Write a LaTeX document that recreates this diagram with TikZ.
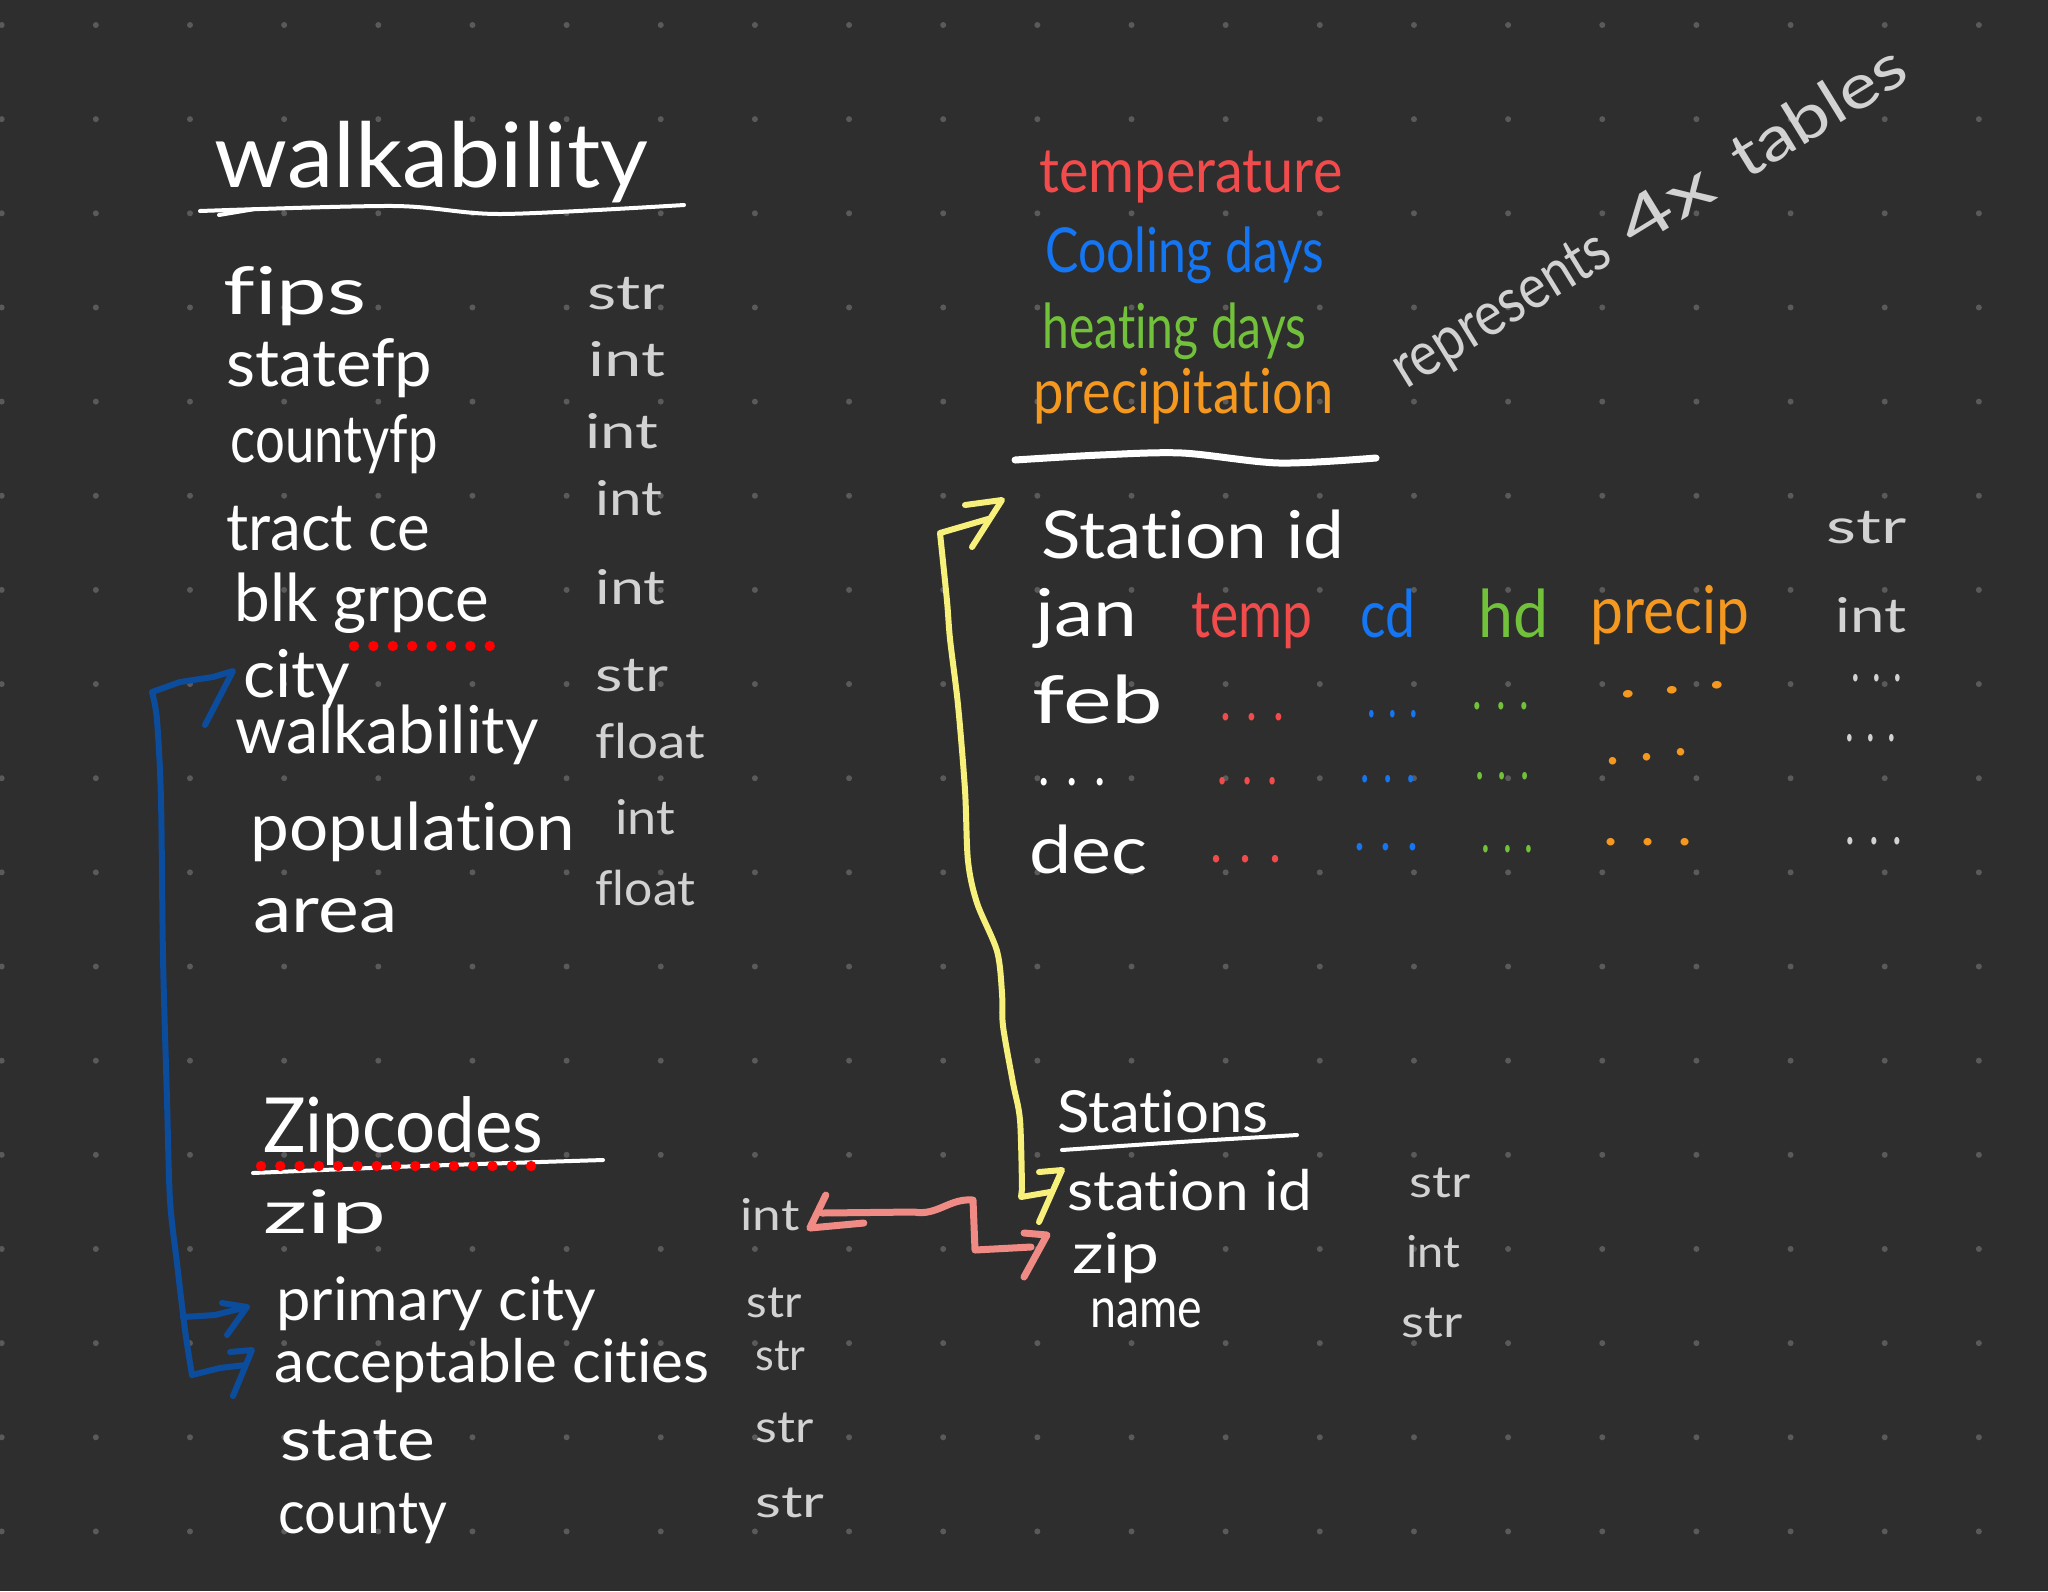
\documentclass[tikz,border=0pt]{standalone}
\usepackage{fontspec}
\setmainfont{Lato}[Ligatures=NoCommon]
\usetikzlibrary{calc}
\newcommand\fw[2]{\resizebox{\dimexpr #1pt/2\relax}{\height}{#2}}
\definecolor{bgc}{HTML}{2E2E2E}
\definecolor{gridc}{HTML}{5A5A5A}
\definecolor{typegrey}{HTML}{D2D2D2}
\definecolor{tred}{HTML}{F24B4B}
\definecolor{tblue}{HTML}{1476F2}
\definecolor{tgreen}{HTML}{72C13A}
\definecolor{torange}{HTML}{F5981F}
\definecolor{reddot}{HTML}{FF0000}
\definecolor{cblue}{HTML}{0C4C9C}
\definecolor{cyellow}{HTML}{F7F07A}
\definecolor{cpink}{HTML}{F08A85}
\begin{document}
\begin{tikzpicture}[x=0.5pt,y=-0.5pt,
  txt/.style={inner sep=0pt, anchor=base west, text=white},
  bigtitle/.style={txt, font=\fontsize{45}{50}\selectfont},
  midtitle/.style={txt, font=\fontsize{38}{44}\selectfont},
  wtitle/.style={txt, font=\fontsize{31}{36}\selectfont},
  rowtxt/.style={txt, font=\fontsize{33}{38}\selectfont},
  ziprow/.style={txt, font=\fontsize{30}{36}\selectfont},
  strow/.style={txt, font=\fontsize{28}{34}\selectfont},
  typ/.style={txt, text=typegrey, font=\fontsize{24}{28}\selectfont},
  styp/.style={txt, text=typegrey, font=\fontsize{22}{26}\selectfont},
  reptxt/.style={txt, text=typegrey, font=\fontsize{31}{36}\selectfont, rotate=31.6},
  dotsx/.style={txt, font=\fontsize{30}{34}\selectfont},
  uline/.style={draw=white, line width=2pt, line cap=round, line join=round},
  conn/.style={line width=3pt, line cap=round, line join=round},
  reddots/.style={fill=reddot}
]
\useasboundingbox (0,0) rectangle (2048,1591);
\fill[bgc] (0,0) rectangle (2048,1591);
% dot grid
\foreach \i in {0,...,21}{
  \foreach \j in {0,...,16}{
    \fill[gridc] (1.7+94.15*\i, 25+94.15*\j) circle[radius=1.5pt];
  }
}

% ---------------- walkability table
\node[bigtitle] (wtitle) at (214,187) {\fw{434}{walkability}};
\draw[uline] plot[smooth] coordinates {(200,211) (394,206) (501,214) (684,205)};
\draw[uline] (219,215) -- (255,209);

\node[rowtxt] (w-fips)   at (223,314) {\fw{143}{fips}};
\node[rowtxt] (w-state)  at (226,386) {\fw{206}{statefp}};
\node[rowtxt] (w-county) at (230,462) {\fw{207}{countyfp}};
\node[rowtxt] (w-tract)  at (226,550) {\fw{204}{tract ce}};
\node[rowtxt] (w-blk)    at (234,621) {\fw{255}{blk grpce}};
\node[rowtxt] (w-city)   at (243,697) {\fw{107}{city}};
\node[rowtxt] (w-walk)   at (235,753) {\fw{303}{walkability}};
\node[rowtxt] (w-pop)    at (250,850) {\fw{325}{population}};
\node[rowtxt] (w-area)   at (253,932) {\fw{144}{area}};

\node[typ] (wt-fips)   at (587,309) {\fw{78}{str}};
\node[typ] (wt-state)  at (588,376) {\fw{77}{int}};
\node[typ] (wt-county) at (585,448) {\fw{73}{int}};
\node[typ] (wt-tract)  at (595,515) {\fw{67}{int}};
\node[typ] (wt-blk)    at (595,604) {\fw{70}{int}};
\node[typ] (wt-city)   at (595,691) {\fw{73}{str}};
\node[typ] (wt-walk)   at (595,758) {\fw{110}{float}};
\node[typ] (wt-pop)    at (615,834) {\fw{60}{int}};
\node[typ] (wt-area)   at (595,905) {\fw{100}{float}};

\foreach \k in {0,...,7}{\fill[reddots] (354+\k*19.4,646) circle[radius=2.6pt];}

% ---------------- zipcodes table
\node[midtitle] (ztitle) at (263,1152) {\fw{280}{Zipcodes}};
\draw[uline] plot[smooth] coordinates {(253,1173) (420,1166) (603,1160)};
\foreach \k in {0,...,14}{\fill[reddots] (261+\k*19.29,1166) circle[radius=2.6pt];}

\node[ziprow] (z-zip)    at (263,1233) {\fw{123}{zip}};
\node[ziprow] (z-pc)     at (276,1320) {\fw{320}{primary city}};
\node[ziprow] (z-ac)     at (274,1382) {\fw{435}{acceptable cities}};
\node[ziprow] (z-state)  at (280,1460) {\fw{155}{state}};
\node[ziprow] (z-county) at (278,1533) {\fw{169}{county}};

\node[styp] (zt-zip)    at (740,1230) {\fw{59}{int}};
\node[styp] (zt-pc)     at (746,1317) {\fw{55}{str}};
\node[styp] (zt-ac)     at (755,1370) {\fw{50}{str}};
\node[styp] (zt-state)  at (755,1442) {\fw{58}{str}};
\node[styp] (zt-county) at (755,1517) {\fw{69}{str}};

% ---------------- weather tables
\node[wtitle, text=tred]    (h-temp) at (1039,192) {\fw{303}{temperature}};
\node[wtitle, text=tblue]   (h-cool) at (1045,272) {\fw{279}{Cooling days}};
\node[wtitle, text=tgreen]  (h-heat) at (1042,348) {\fw{264}{heating days}};
\node[wtitle, text=torange] (h-prec) at (1033,413) {\fw{300}{precipitation}};
\draw[uline, line width=3.5pt] plot[smooth] coordinates {(1015,460) (1100,455) (1182,453) (1279,463) (1376,458)};

\node[reptxt] (rep1) at (1406,390) {\fw{245}{represents}};
\node[reptxt] (rep2) at (1634,250) {\fw{100}{4x}};
\node[reptxt] (rep3) at (1746,181) {\fw{195}{tables}};

\node[rowtxt] (ws-id)  at (1041,558) {\fw{303}{Station id}};
\node[typ]    (wst-id) at (1826,543) {\fw{80}{str}};
\node[rowtxt] (ws-jan) at (1035,636) {\fw{102}{jan}};
\node[rowtxt, text=tred]    (ws-temp) at (1191,637) {\fw{121}{temp}};
\node[rowtxt, text=tblue]   (ws-cd)   at (1360,637) {\fw{55}{cd}};
\node[rowtxt, text=tgreen]  (ws-hd)   at (1478,637) {\fw{70}{hd}};
\node[rowtxt, text=torange] (ws-prec) at (1590,633) {\fw{159}{precip}};
\node[typ]    (wst-jan) at (1835,632) {\fw{71}{int}};

\node[rowtxt] (ws-feb) at (1032,723) {\fw{131}{feb}};
\node[dotsx, text=tred]    (fd1) at (1220,720) {\fw{64}{. . .}};
\node[dotsx, text=tblue]   (fd2) at (1367,717) {\fw{51}{. . .}};
\node[dotsx, text=tgreen]  (fd3) at (1472,709) {\fw{57}{. . .}};
\node[dotsx, text=torange, rotate=6] (fd4) at (1619,699) {\fw{108}{. . .}};
\node[dotsx, text=typegrey] (fd5) at (1851,681) {\fw{51}{. . .}};

\node[dotsx] (ws-etc) at (1038,785) {\fw{67}{. . .}};
\node[dotsx, text=tred]    (ed1) at (1217,784) {\fw{60}{. . .}};
\node[dotsx, text=tblue]   (ed2) at (1360,782) {\fw{55}{. . .}};
\node[dotsx, text=tgreen]  (ed3) at (1475,779) {\fw{54}{. . .}};
\node[dotsx, text=torange, rotate=8] (ed4) at (1606,766) {\fw{83}{. . .}};
\node[dotsx, text=typegrey] (ed5) at (1845,741) {\fw{51}{. . .}};

\node[rowtxt] (ws-dec) at (1029,873) {\fw{118}{dec}};
\node[dotsx, text=tred]    (dd1) at (1210,862) {\fw{71}{. . .}};
\node[dotsx, text=tblue]   (dd2) at (1354,850) {\fw{64}{. . .}};
\node[dotsx, text=tgreen]  (dd3) at (1481,852) {\fw{52}{. . .}};
\node[dotsx, text=torange] (dd4) at (1603,845) {\fw{89}{. . .}};
\node[dotsx, text=typegrey] (dd5) at (1845,844) {\fw{57}{. . .}};

% ---------------- stations table
\node[strow, font=\fontsize{29}{34}\selectfont] (stitle) at (1057,1132) {\fw{211}{Stations}};
\draw[uline] plot[smooth] coordinates {(1062,1150) (1180,1142) (1297,1135)};
\node[strow] (s-id)   at (1067,1210) {\fw{245}{station id}};
\node[strow] (s-zip)  at (1072,1273) {\fw{87}{zip}};
\node[strow] (s-name) at (1090,1327) {\fw{112}{name}};
\node[styp] (st-id)   at (1409,1197) {\fw{61}{str}};
\node[styp] (st-zip)  at (1406,1267) {\fw{54}{int}};
\node[styp] (st-name) at (1401,1337) {\fw{61}{str}};

% ---------------- connectors
% blue: zipcodes cities -> walkability city
\coordinate (bcity) at ($(w-city.base west)+(-10,-26)$);
\coordinate (bpc)   at ($(z-pc.base west)+(-29,-13)$);
\coordinate (bac)   at ($(z-ac.base west)+(-22,-32)$);
\draw[conn, cblue] plot[smooth, tension=0.5] coordinates {(192,1375) (185,1330) (177,1263) (170,1200) (167,1100) (163,957) (161,800) (157,720) (152,692)}
   -- (180,682) -- (213,677) -- (bcity) -- ++(-28,54);
\draw[conn, cblue] (183,1317) -- (215,1315) -- (bpc) -- ++(-20,28);
\draw[conn, cblue] (222,1303) -- (bpc);
\draw[conn, cblue] (192,1375) -- (220,1368) -- (245,1365);
\draw[conn, cblue] ($(bac)+(-22,2)$) -- (bac) -- ++(-19,46);

% yellow: stations station id -> weather Station id
\coordinate (ytop) at ($(ws-id.base west)+(-39,-58)$);
\coordinate (ybot) at ($(s-id.base west)+(-5,-40)$);
\draw[conn, cyellow] (988,519) -- (940,533)
   plot[smooth, tension=0.5] coordinates {(940,533) (947,601) (950,639) (958,705) (965,790) (968,861) (977,903) (997,951) (1002,993) (1003,1026) (1013,1083) (1020,1120) (1022,1189)}
   -- (1021,1197) -- (1050,1192);
\draw[conn, cyellow] ($(ytop)+(-37,5)$) -- (ytop) -- ++(-30,47);
\draw[conn, cyellow] ($(ybot)+(-23,2)$) -- (ybot) -- ++(-23,52);

% pink: stations zip -> zipcodes zip int
\coordinate (pint) at ($(zt-zip.base east)+(10,-2)$);
\coordinate (pzip) at ($(s-zip.base west)+(-25,-38)$);
\draw[conn, cpink, line width=3.5pt] ($(pint)+(16,-33)$) -- (pint) -- ++(54,-5);
\draw[conn, cpink, line width=3.5pt] (822,1213) -- (914,1212) to[out=-10,in=175] (973,1200) -- (975,1250) -- (1031,1247);
\draw[conn, cpink, line width=3.5pt] ($(pzip)+(-23,-2)$) -- (pzip) -- ++(-23,42);
\end{tikzpicture}
\end{document}
